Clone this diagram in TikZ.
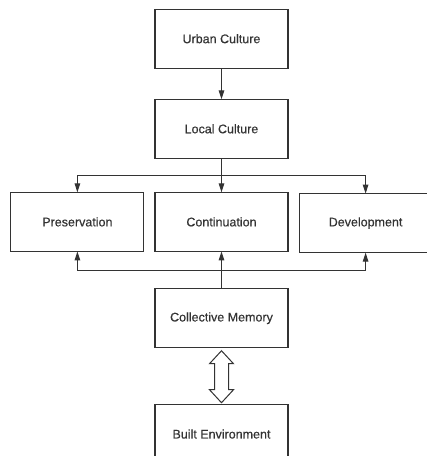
\documentclass[tikz,border=0pt]{standalone}
\usepackage{fontspec}
\setmainfont{Liberation Sans}
\newfontfamily\boxfont{Liberation Sans}[FakeBold=0.5]
\usepackage{tikz}
\usetikzlibrary{matrix}
\usetikzlibrary{arrows.meta,calc,positioning}
\definecolor{ink}{HTML}{333333}
\tikzset{>={Triangle[length=9pt,width=5.5pt]}}
\tikzstyle{box}=[draw=ink,line width=1.1pt,rectangle,minimum width=133pt,minimum height=59pt,
outer sep=0pt,inner sep=0pt,text=ink,font=\boxfont\fontsize{12.5}{15}\selectfont]
\tikzstyle{wire}=[draw=ink,line width=1.1pt]
\tikzstyle{hollow}=[draw=ink,fill=white,line width=1pt,line join=miter]

\begin{document}
\begin{tikzpicture}[x=1pt,y=-1pt]
	\useasboundingbox (0,0) rectangle (427,456);
	\clip (0,0) rectangle (427,456);
	\matrix (m) at (221.5,236.35) [matrix of nodes, nodes={box}, row sep=30pt, column sep=10pt]
	{
		& Urban Culture & \\
		& Local Culture & \\[3pt]
		Preservation & Continuation & Development \\[5pt]
		& Collective Memory & \\[25.7pt]
		& Built Environment & \\
	};
	\draw[wire,->] (m-1-2) -- (m-2-2);
	\coordinate (split) at ($(m-2-2.south)!.5!(m-3-2.north)$);
	\draw[wire] (m-2-2) -- (split);
	\draw[wire,->] (split) -| (m-3-1);
	\draw[wire,->] (split) -- (m-3-2);
	\draw[wire,->] (split) -| (m-3-3);
	\coordinate (merge) at ($(m-3-2.south)!.5!(m-4-2.north)$);
	\draw[wire] (m-4-2) -- (merge);
	\draw[wire,->] (merge) -| (m-3-1);
	\draw[wire,->] (merge) -- (m-3-2);
	\draw[wire,->] (merge) -| (m-3-3);
	\draw[hollow] ($(m-4-2.south)+(0,3)$) -- ++(12,13) -- ++(-5,0) -- ++(0,26)
		-- ++(5,0) -- ++(-12,13) -- ++(-12,-13) -- ++(5,0) -- ++(0,-26)
		-- ++(-5,0) -- cycle;
\end{tikzpicture}
\end{document}
